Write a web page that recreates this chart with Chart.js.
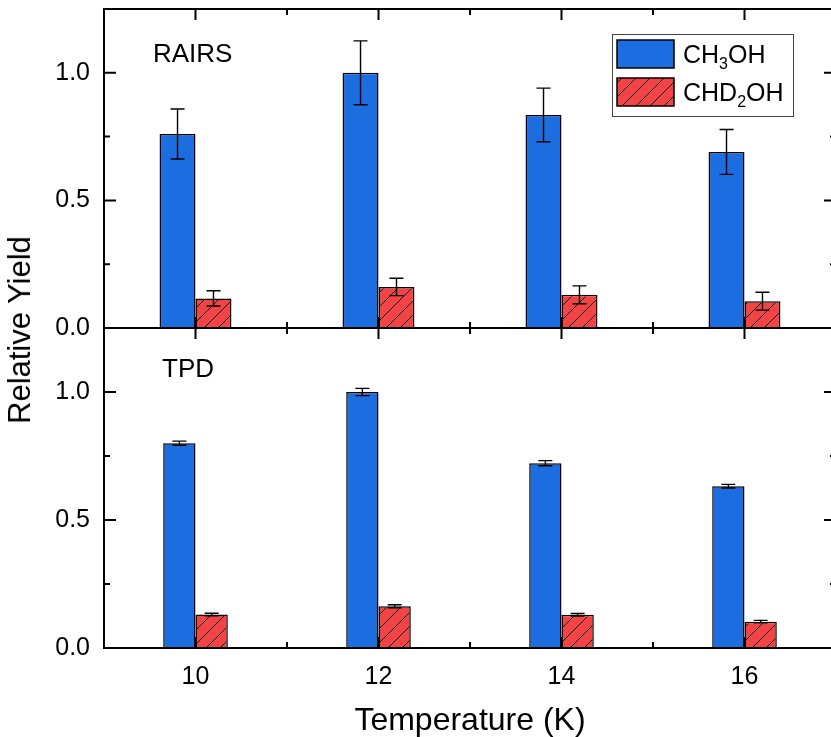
<!DOCTYPE html>
<html>
<head>
<meta charset="utf-8">
<script src="https://cdn.jsdelivr.net/npm/chart.js@4.4.1/dist/chart.umd.min.js"></script>
<style>
  html, body { margin: 0; padding: 0; background: #fff; overflow: hidden; }
  #wrap { position: relative; width: 840px; height: 737px; }
  #wrap canvas { position: absolute; left: 0; top: 0; }
  #ytitle {
    position: absolute; left: 20px; top: 330px;
    transform: translate(-50%, -50%) rotate(-90deg);
    white-space: nowrap; font: 31px "Liberation Sans", Arial, sans-serif; color: #000;
  }
</style>
</head>
<body>
<div id="wrap">
  <canvas id="bottomChart" width="840" height="737"></canvas>
  <canvas id="topChart" width="840" height="737"></canvas>
  <div id="ytitle">Relative Yield</div>
</div>
<script>
const temps = ['10', '12', '14', '16'];
const seriesNames = ['CH3OH', 'CHD2OH'];

const rairsCH3OH = [0.76, 1.00, 0.835, 0.69];
const rairsCH3OHErr = [0.098, 0.125, 0.105, 0.088];
const rairsCHD2OH = [0.116, 0.161, 0.130, 0.105];
const rairsCHD2OHErr = [0.030, 0.034, 0.035, 0.035];

const tpdCH3OH = [0.80, 1.00, 0.722, 0.632];
const tpdCH3OHErr = [0.008, 0.014, 0.010, 0.007];
const tpdCHD2OH = [0.131, 0.163, 0.130, 0.103];
const tpdCHD2OHErr = [0.005, 0.006, 0.005, 0.005];

const yTicks = [0, 0.5, 1.0];
const yMinor = [0.25, 0.75];

const FONT = '"Liberation Sans", Arial, sans-serif';
const BLUE = '#1c6ee0';
const RED = '#f24444';

function hatch() {
    const c = document.createElement('canvas');
    c.width = 14; c.height = 14;
    const g = c.getContext('2d');
    g.fillStyle = RED;
    g.fillRect(0, 0, 14, 14);
    g.strokeStyle = '#111';
    g.lineWidth = 1;
    g.beginPath();
    g.moveTo(-2, 16); g.lineTo(16, -2);
    g.moveTo(-2, 2); g.lineTo(2, -2);
    g.moveTo(12, 16); g.lineTo(16, 12);
    g.stroke();
    return g.createPattern(c, 'repeat');
}
const RED_HATCH = hatch();

// frame + inward ticks on all four sides
const framePlugin = {
    id: 'frame',
    beforeDatasetsDraw(chart) {
        const { ctx, chartArea: a, scales: { x, y } } = chart;
        ctx.save();
        ctx.strokeStyle = '#000';
        ctx.lineWidth = 2;
        ctx.beginPath();
        temps.forEach((t, i) => {
            const px = x.getPixelForValue(i);
            ctx.moveTo(px, a.top); ctx.lineTo(px, a.top + 11);
            ctx.moveTo(px, a.bottom); ctx.lineTo(px, a.bottom - 11);
            if (i > 0) {
                const mx = x.getPixelForValue(i - 0.5);
                ctx.moveTo(mx, a.top); ctx.lineTo(mx, a.top + 6);
                ctx.moveTo(mx, a.bottom); ctx.lineTo(mx, a.bottom - 6);
            }
        });
        yTicks.forEach(v => {
            const py = y.getPixelForValue(v);
            ctx.moveTo(a.left, py); ctx.lineTo(a.left + 12, py);
            ctx.moveTo(a.right, py); ctx.lineTo(a.right - 12, py);
        });
        yMinor.forEach(v => {
            const py = y.getPixelForValue(v);
            ctx.moveTo(a.left, py); ctx.lineTo(a.left + 6, py);
            ctx.moveTo(a.right, py); ctx.lineTo(a.right - 6, py);
        });
        ctx.stroke();
        ctx.restore();
    },
    afterDatasetsDraw(chart) {
        const { ctx, chartArea: a } = chart;
        ctx.save();
        ctx.strokeStyle = '#000';
        ctx.lineWidth = 2;
        ctx.strokeRect(a.left, a.top, a.right - a.left, a.bottom - a.top);
        ctx.restore();
    }
};

const errorBarPlugin = {
    id: 'errbars',
    afterDatasetsDraw(chart) {
        const { ctx, scales: { y } } = chart;
        ctx.save();
        ctx.strokeStyle = '#000';
        ctx.lineWidth = 1.4;
        chart.data.datasets.forEach((ds, di) => {
            const meta = chart.getDatasetMeta(di);
            meta.data.forEach((bar, i) => {
                const v = ds.data[i], e = ds.errors[i];
                const y1 = y.getPixelForValue(v + e), y2 = y.getPixelForValue(v - e);
                ctx.beginPath();
                ctx.moveTo(bar.x, y1); ctx.lineTo(bar.x, y2);
                ctx.moveTo(bar.x - 7, y1); ctx.lineTo(bar.x + 7, y1);
                ctx.moveTo(bar.x - 7, y2); ctx.lineTo(bar.x + 7, y2);
                ctx.stroke();
            });
        });
        ctx.restore();
    }
};

const panelLabelPlugin = {
    id: 'panelLabel',
    afterDraw(chart, args, opts) {
        const ctx = chart.ctx;
        ctx.save();
        ctx.fillStyle = '#000';
        ctx.font = '26px ' + FONT;
        ctx.textBaseline = 'alphabetic';
        ctx.fillText(opts.text, opts.x, opts.y);
        ctx.restore();
    }
};

// legend with subscripts
function drawFormula(ctx, parts, x, y) {
    parts.forEach(([txt, sub]) => {
        ctx.font = (sub ? '16px ' : '25px ') + FONT;
        ctx.fillText(txt, x, sub ? y + 6 : y);
        x += ctx.measureText(txt).width;
    });
}
const legendPlugin = {
    id: 'subLegend',
    afterDraw(chart) {
        const ctx = chart.ctx;
        ctx.save();
        ctx.fillStyle = '#fff';
        ctx.fillRect(612, 34, 181, 82);
        ctx.strokeStyle = '#444';
        ctx.lineWidth = 1;
        ctx.strokeRect(612.5, 34.5, 181, 82);
        const fills = [BLUE, RED_HATCH];
        const formulas = [
            [['CH'], ['3', true], ['OH']],
            [['CHD'], ['2', true], ['OH']]
        ];
        seriesNames.forEach((name, i) => {
            const top = i === 0 ? 40 : 78;
            ctx.fillStyle = fills[i];
            ctx.fillRect(617, top, 57, 28);
            ctx.strokeStyle = '#000';
            ctx.lineWidth = 1.5;
            ctx.strokeRect(617, top, 57, 28);
            ctx.fillStyle = '#000';
            ctx.textBaseline = 'alphabetic';
            drawFormula(ctx, formulas[i], 683, top + 23);
        });
        ctx.restore();
    }
};

function yScale() {
    return {
        min: 0,
        max: 1.25,
        afterFit: s => {
            s.width = 104;
            s.paddingTop = 0;
            s.paddingBottom = 0;
        },
        afterBuildTicks: s => { s.ticks = yTicks.map(v => ({ value: v })); },
        grid: { display: false, drawTicks: false },
        border: { display: false },
        ticks: {
            color: '#000',
            padding: 14,
            font: { family: FONT, size: 25 },
            callback: v => Number(v).toFixed(1)
        }
    };
}

function bars(a, aErr, b, bErr) {
    return [
        { label: seriesNames[0], data: a, errors: aErr, backgroundColor: BLUE,
          borderColor: '#000', borderWidth: 1.5 },
        { label: seriesNames[1], data: b, errors: bErr, backgroundColor: RED_HATCH,
          borderColor: '#000', borderWidth: 1.5 }
    ];
}

new Chart(document.getElementById('topChart'), {
    type: 'bar',
    data: { labels: temps, datasets: bars(rairsCH3OH, rairsCH3OHErr, rairsCHD2OH, rairsCHD2OHErr) },
    options: {
        responsive: false,
        animation: false,
        categoryPercentage: 0.393,
        barPercentage: 1,
        layout: { padding: { top: 9, left: 0, right: 4, bottom: 409 } },
        plugins: {
            legend: { display: false },
            tooltip: { enabled: false },
            panelLabel: { text: 'RAIRS', x: 153, y: 62 }
        },
        scales: {
            x: { display: false, offset: true },
            y: yScale()
        }
    },
    plugins: [framePlugin, errorBarPlugin, panelLabelPlugin, legendPlugin]
});

new Chart(document.getElementById('bottomChart'), {
    type: 'bar',
    data: { labels: temps, datasets: bars(tpdCH3OH, tpdCH3OHErr, tpdCHD2OH, tpdCHD2OHErr) },
    options: {
        responsive: false,
        animation: false,
        categoryPercentage: 0.353,
        barPercentage: 1,
        layout: { padding: { top: 328, left: 0, right: 4, bottom: 0 } },
        plugins: {
            legend: { display: false },
            tooltip: { enabled: false },
            panelLabel: { text: 'TPD', x: 162, y: 377 }
        },
        scales: {
            x: {
                offset: true,
                afterFit: s => { s.height = 89; },
                grid: { display: false, drawTicks: false },
                border: { display: false },
                ticks: { color: '#000', padding: 14, font: { family: FONT, size: 25 } },
                title: {
                    display: true,
                    text: 'Temperature (K)',
                    color: '#000',
                    padding: { top: 0, bottom: -3 },
                    font: { family: FONT, size: 32 }
                }
            },
            y: yScale()
        }
    },
    plugins: [framePlugin, errorBarPlugin, panelLabelPlugin]
});
</script>
</body>
</html>
